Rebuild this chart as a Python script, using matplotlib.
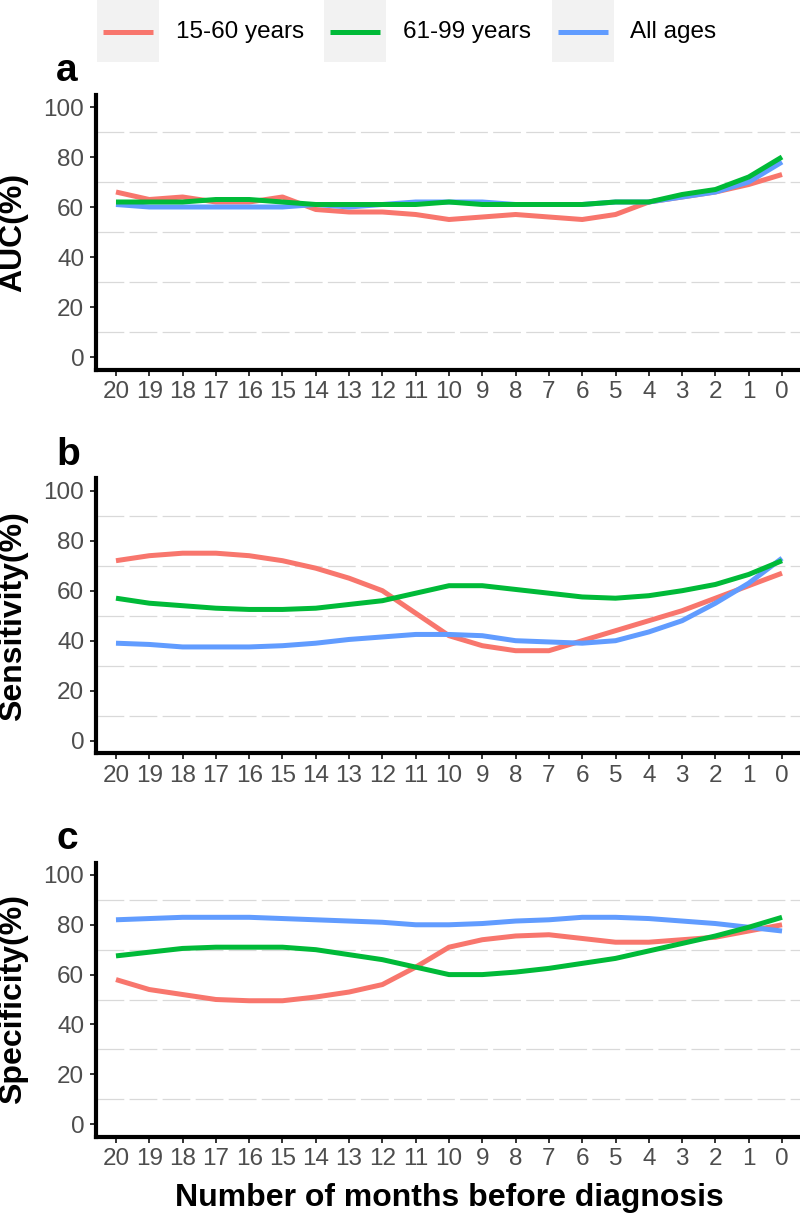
import matplotlib
matplotlib.use("Agg")
import matplotlib.pyplot as plt
from matplotlib.patches import Rectangle
from matplotlib.lines import Line2D


plt.rcParams['font.family'] = ['Liberation Sans', 'DejaVu Sans']

months = list(range(20, -1, -1))
groups = ["15-60 years", "61-99 years", "All ages"]
colours = ["#F8766D", "#00BA38", "#619CFF"]

# AUC (%), months 20 -> 0
auc_young = [66, 63, 64, 62, 62, 64, 59, 58, 58, 57, 55, 56, 57, 56, 55, 57, 62, 64, 66, 69, 73]
auc_old = [62, 62, 62, 63, 63, 62, 61, 61, 61, 61, 62, 61, 61, 61, 61, 62, 62, 65, 67, 72, 80]
auc_all = [61, 60, 60, 60, 60, 60, 61, 60, 61, 62, 62, 62, 61, 61, 61, 62, 62, 64, 66, 70, 78]

# Sensitivity (%)
sens_young = [72, 74, 75, 75, 74, 72, 69, 65, 60, 51, 42, 38, 36, 36, 40, 44, 48, 52, 57, 62, 67]
sens_old = [57, 55, 54, 53, 52.5, 52.5, 53, 54.5, 56, 59, 62, 62, 60.5, 59, 57.5, 57, 58, 60, 62.5, 66.5, 72]
sens_all = [39, 38.5, 37.5, 37.5, 37.5, 38, 39, 40.5, 41.5, 42.5, 42.5, 42, 40, 39.5, 39, 40, 43.5, 48, 55, 63, 73]

# Specificity (%)
spec_young = [58, 54, 52, 50, 49.5, 49.5, 51, 53, 56, 63, 71, 74, 75.5, 76, 74.5, 73, 73, 74, 75, 77.5, 80]
spec_old = [67.5, 69, 70.5, 71, 71, 71, 70, 68, 66, 63, 60, 60, 61, 62.5, 64.5, 66.5, 69.5, 72.5, 75.5, 79, 83]
spec_all = [82, 82.5, 83, 83, 83, 82.5, 82, 81.5, 81, 80, 80, 80.5, 81.5, 82, 83, 83, 82.5, 81.5, 80.5, 79, 77.5]

panels = [
    ("a", "AUC(%)", [auc_young, auc_old, auc_all]),
    ("b", "Sensitivity(%)", [sens_young, sens_old, sens_all]),
    ("c", "Specificity(%)", [spec_young, spec_old, spec_all]),
]

W, H = 800, 1215
fig = plt.figure(figsize=(W / 100, H / 100), dpi=100)

# axes boxes in pixels: top, bottom
boxes = [(94.5, 369.5), (478.2, 753.2), (862.5, 1136.5)]
left_px, right_px = 96, 802

lw_grid = 0.9
for (letter, ylab, series), (top, bot) in zip(panels, boxes):
    ax = fig.add_axes([left_px / W, 1 - bot / H, (right_px - left_px) / W, (bot - top) / H])
    for yv in [10, 30, 50, 70, 90]:
        ax.axhline(yv, color="#D9D9D9", lw=lw_grid, ls=(0, (20 / lw_grid, 3.8 / lw_grid)), zorder=0)
    # draw order: red, blue, green
    for idx in [0, 2, 1]:
        ax.plot(months, series[idx], color=colours[idx], lw=3.6,
                solid_capstyle="butt", solid_joinstyle="round", zorder=2)
    ax.set_xlim(20.6, -0.6)
    ax.set_ylim(-5, 105)
    ax.set_xticks(months)
    ax.set_xticklabels([str(m) for m in months])
    ax.set_yticks([0, 20, 40, 60, 80, 100])
    ax.tick_params(axis="both", labelsize=17.5, labelcolor="#4D4D4D", color="#333333",
                   length=4.5, width=1.4, pad=4)
    for s in ["top", "right"]:
        ax.spines[s].set_visible(False)
    for s in ["left", "bottom"]:
        ax.spines[s].set_linewidth(3)
        ax.spines[s].set_color("black")
    ax.set_ylabel(ylab, fontsize=23, fontweight="bold", va="center")
    ax.yaxis.set_label_coords((13 - left_px) / (right_px - left_px), 0.5)
    fig.text(56 / W, 1 - (top + 14.5 - 28) / H, letter, fontsize=28, fontweight="bold",
             ha="left", va="baseline")
    last_ax = ax

last_ax.set_xlabel("Number of months before diagnosis", fontsize=23, fontweight="bold", va="center")
last_ax.xaxis.set_label_coords(0.5, -(1198 - 1136.5) / (1136.5 - 862.5))

# legend on top
key_x = [97, 324, 552]
text_x = [176, 403, 630]
for kx, tx, lab, col in zip(key_x, text_x, groups, colours):
    fig.add_artist(Rectangle((kx / W, 1 - 62 / H), 62 / W, 62 / H,
                             transform=fig.transFigure, facecolor="#F2F2F2", edgecolor="none"))
    fig.add_artist(Line2D([(kx + 6) / W, (kx + 56) / W], [1 - 32 / H, 1 - 32 / H],
                          transform=fig.transFigure, color=col, lw=3.6, solid_capstyle="butt"))
    fig.text(tx / W, 1 - 32 / H, lab, fontsize=17.5, ha="left", va="center", color="black")

fig.savefig("out.png", dpi=100)
